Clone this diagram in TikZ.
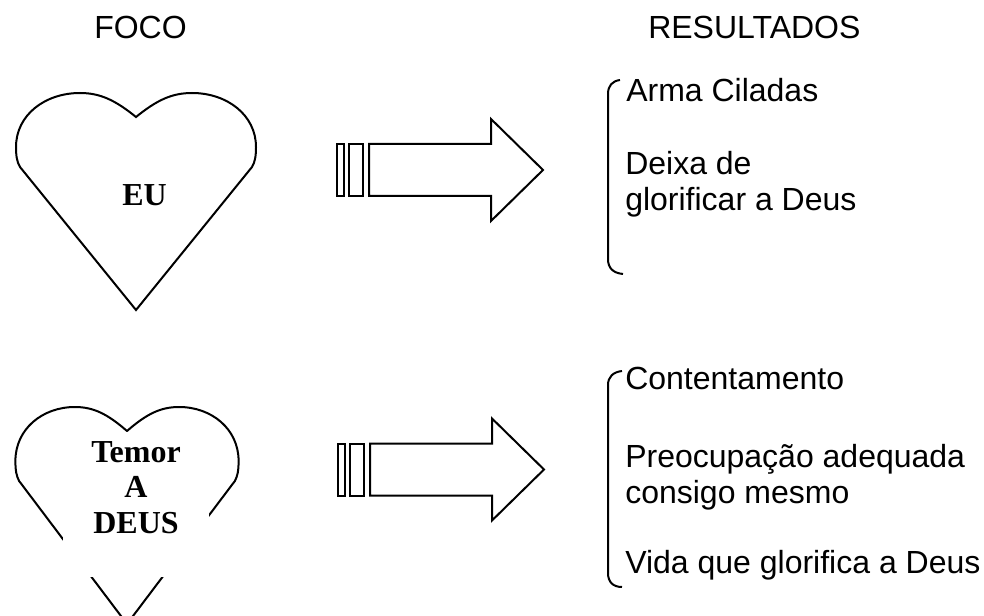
\documentclass[tikz,border=0pt]{standalone}
\usepackage{fontspec}
\setmainfont{Liberation Sans}
\newfontfamily\heartfont{Liberation Serif}
\usetikzlibrary{positioning}
\tikzset{
  outline/.style={draw, line width=1.5pt, line join=miter},
  title/.style={anchor=base west, inner sep=0pt, font=\fontsize{24pt}{27.6pt}\selectfont},
  heartword/.style={inner sep=0pt, font=\heartfont\bfseries\fontsize{24pt}{26.6pt}\selectfont},
  heart/.pic={
    \draw[outline] (0,24) .. controls (-21,7) and (-36,0) .. (-56,0)
      .. controls (-91,0) and (-120,22) .. (-120,54)
      .. controls (-120,63) and (-119,69) .. (-116,74)
      -- (0,217) -- (116,74)
      .. controls (119,69) and (120,63) .. (120,54)
      .. controls (120,22) and (91,0) .. (56,0)
      .. controls (36,0) and (21,7) .. cycle;
  },
  bigarrow/.pic={
    \draw[outline] (0,-26) rectangle (7,26);
    \draw[outline] (12,-26) rectangle (26,26);
    \draw[outline] (32,-26) -- (154,-26) -- (154,-51) -- (206,0)
      -- (154,51) -- (154,26) -- (32,26) -- cycle;
  }
}
\begin{document}
\begin{tikzpicture}[x=0.75pt,y=-0.75pt]
  \useasboundingbox (0,0) rectangle (984,616);
  \clip (0,0) rectangle (984,616);
  % headings
  \node[title] (foco) at (94,39) {FOCO};
  \node[title] (resultados) at (648,39) {RESULTADOS};

  % first row
  \pic at (136,93) {heart};
  \node[heartword, anchor=base] (eu) at (144.5,206) {EU};
  \pic at (337,170) {bigarrow};
  \draw[outline] (620,80) .. controls (612,81) and (608,86) .. (608,94)
    -- (608,259) .. controls (608,268) and (613,273) .. (623,274);
  \node[title] (arma) at (626,102) {Arma Ciladas};
  \node[title] (deixa) at (625,175) {Deixa de};
  \node[title] (glorificar) at (625,211) {glorificar a Deus};

  % second row
  \pic[xscale=0.93] at (127,407) {heart};
  \node[heartword, fill=white, anchor=north] (temor) at (136,432)
    {\parbox[t][108.75pt][t]{109.5pt}{\centering\rule{0pt}{22.5pt}Temor\\A\\DEUS}};
  \pic at (338,469.5) {bigarrow};
  \draw[outline] (622,371) .. controls (613,372) and (608,377) .. (608,385)
    -- (608,573) .. controls (608,582) and (613,587) .. (622,587);
  \node[title] (contente) at (625,389) {Contentamento};
  \node[title] (preocupa) at (625,467) {Preocupação adequada};
  \node[title] (consigo) at (625,503) {consigo mesmo};
  \node[title] (vida) at (625,573) {Vida que glorifica a Deus};
\end{tikzpicture}
\end{document}
